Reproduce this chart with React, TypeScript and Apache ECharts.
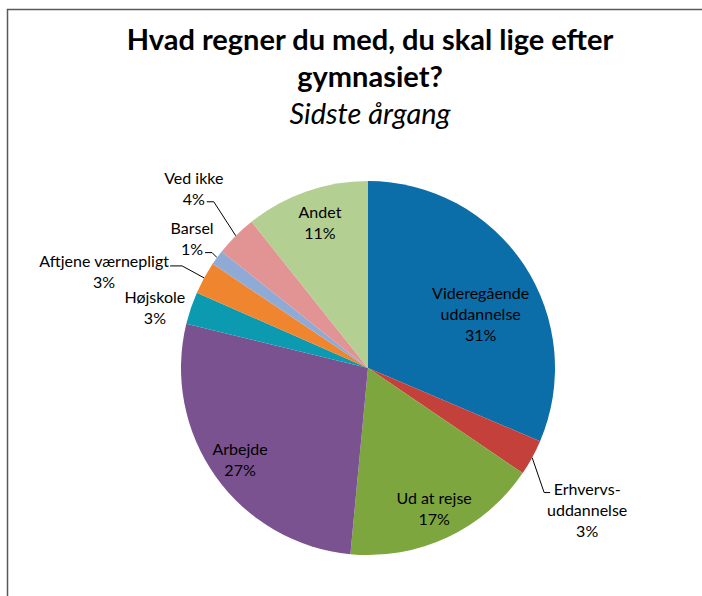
import React, { useEffect, useRef } from "react";
import * as echarts from "echarts";

// ---- data ----
const categories = [
  "Videregående\nuddannelse",
  "Erhvervs-\nuddannelse",
  "Ud at rejse",
  "Arbejde",
  "Højskole",
  "Aftjene værnepligt",
  "Barsel",
  "Ved ikke",
  "Andet",
];
const shares = [31.4, 3.1, 17.0, 27.3, 2.8, 2.8, 1.3, 3.6, 10.7];
const colors = [
  "#0B6EA8",
  "#C3403B",
  "#7EA63F",
  "#7A5290",
  "#0C9AB0",
  "#EF862F",
  "#8FAAD4",
  "#E29393",
  "#B3CF92",
];
const titleLines = ["Hvad regner du med, du skal lige efter", "gymnasiet?"];
const subtitle = "Sidste årgang";

// ---- layout ----
const CX = 368;
const CY = 368;
const R = 187;
const FONT = "Lato, 'Open Sans', sans-serif";

type Spec =
  | { inside: true; rf: number; da: number }
  | { inside: false; dx: number; dy: number; line: number[][] | null };

const labelSpecs: Spec[] = [
  { inside: true, rf: 0.67, da: 7.5 },
  { inside: false, dx: 55, dy: 52, line: [[12, 35], [18, 35]] },
  { inside: true, rf: 0.83, da: 0 },
  { inside: true, rf: 0.84, da: 0 },
  { inside: false, dx: -36, dy: -1, line: null },
  { inside: false, dx: -100, dy: -7, line: [[-22, -12], [-34, -12]] },
  { inside: false, dx: -25, dy: -20, line: [[-5, -5], [-12, -5]] },
  { inside: false, dx: -42, dy: -48, line: [[-22, -34], [-29, -34]] },
  { inside: true, rf: 0.82, da: 1 },
];

export default function App() {
  const ref = useRef<HTMLDivElement>(null);
  useEffect(() => {
    if (!ref.current) return;
    const chart = echarts.init(ref.current, null, { renderer: "svg" });
    const total = shares.reduce((a, b) => a + b, 0);
    const midAngles = shares.map((v, i) => {
      const before = shares.slice(0, i).reduce((a, b) => a + b, 0);
      return ((before + v / 2) / total) * 2 * Math.PI;
    });
    const polar = (a: number, r: number) => [CX + r * Math.sin(a), CY - r * Math.cos(a)];

    const data = categories.map((name, i) => {
      const spec = labelSpecs[i];
      return {
        name,
        value: shares[i],
        itemStyle: { color: colors[i] },
        label: { position: spec.inside ? "inside" : "outside" },
        labelLine: { show: !spec.inside && (spec as any).line != null },
      };
    });

    chart.setOption({
      animation: false,
      backgroundColor: "#ffffff",
      title: {
        left: 370,
        top: 20,
        textAlign: "center",
        padding: 0,
        text:
          titleLines.map((l) => `{b|${l}}`).join("\n") + `\n{i|${subtitle}}`,
        textStyle: {
          rich: {
            b: {
              fontFamily: FONT,
              fontSize: 29,
              fontWeight: "bold",
              color: "#000",
              lineHeight: 37,
            },
            i: {
              fontFamily: FONT,
              fontSize: 29,
              fontWeight: "normal",
              fontStyle: "italic",
              color: "#000",
              lineHeight: 37,
            },
          },
        },
      },
      graphic: [
        {
          type: "rect",
          shape: { x: 7.5, y: 9.5, width: 1000, height: 1000 },
          style: { fill: "none", stroke: "#595959", lineWidth: 1.5 },
          silent: true,
        },
      ],
      series: [
        {
          type: "pie",
          center: [CX, CY],
          radius: [0, R],
          startAngle: 90,
          clockwise: true,
          avoidLabelOverlap: false,
          itemStyle: { borderWidth: 0 },
          label: {
            fontFamily: FONT,
            fontSize: 16,
            lineHeight: 21,
            color: "#000",
            align: "center",
            formatter: (p: any) => `${p.name}\n${Math.round(p.percent)}%`,
          },
          labelLine: { lineStyle: { color: "#000", width: 1 }, length: 10, length2: 10 },
          labelLayout: (p: any) => {
            const i = p.dataIndex;
            const spec = labelSpecs[i];
            const mid = midAngles[i];
            if (spec.inside) {
              const [x, y] = polar(mid + (spec.da * Math.PI) / 180, R * spec.rf);
              return { x, y, align: "center", verticalAlign: "middle" };
            }
            const [ex, ey] = polar(mid, R);
            const out: any = {
              x: ex + spec.dx,
              y: ey + spec.dy,
              align: "center",
              verticalAlign: "middle",
            };
            if (spec.line) {
              out.labelLinePoints = [
                [ex, ey],
                [ex + spec.line[0][0], ey + spec.line[0][1]],
                [ex + spec.line[1][0], ey + spec.line[1][1]],
              ];
            }
            return out;
          },
          data,
        },
      ],
    });
    return () => chart.dispose();
  }, []);
  return (
    <div
      ref={ref}
      style={{ position: "fixed", left: 0, top: 0, width: 702, height: 596 }}
    />
  );
}
